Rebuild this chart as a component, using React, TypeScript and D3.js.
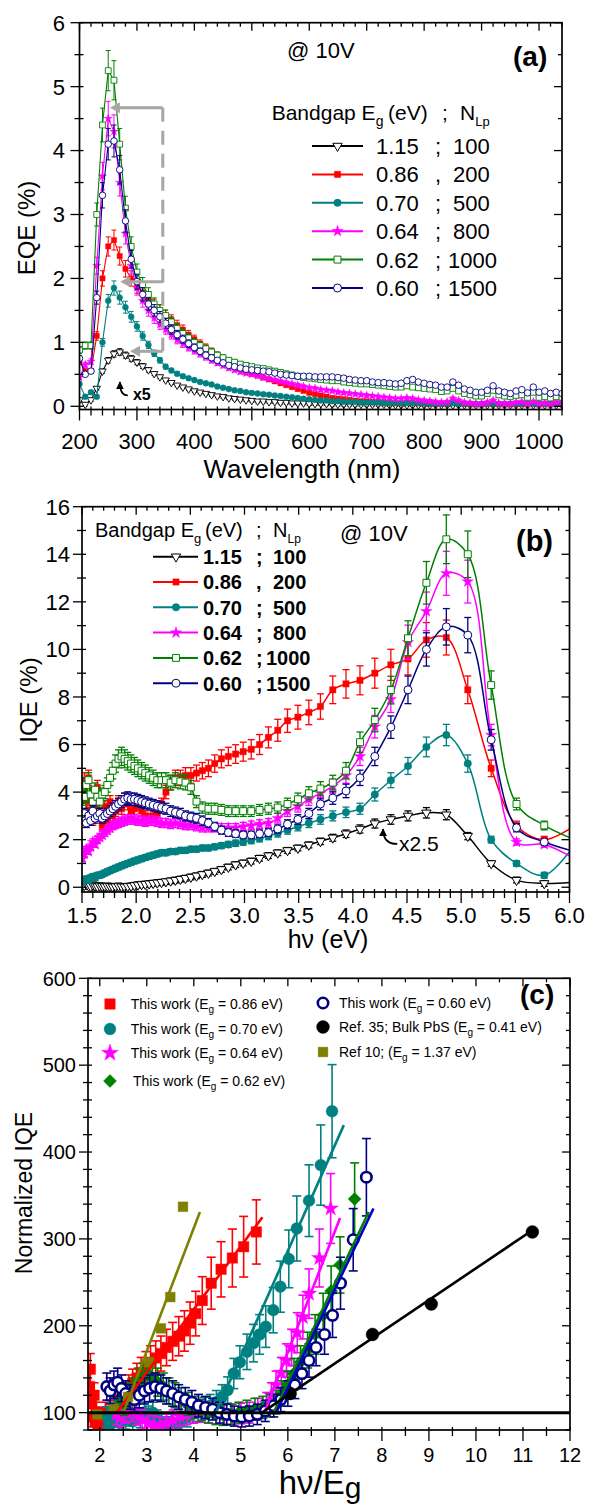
import React from 'react'
import * as d3 from 'd3'

const FONT = "'Liberation Sans', Arial, Helvetica, sans-serif"

// ---------- (a) EQE vs wavelength, @ 10 V ----------
const wavelengths = [
  200, 210, 220, 230, 240, 250, 260, 270, 280, 290,
  300, 310, 320, 330, 340, 350, 360, 370, 380, 390,
  400, 410, 420, 430, 440, 450, 460, 470, 480, 490,
  500, 510, 520, 530, 540, 550, 560, 570, 580, 590,
  600, 610, 620, 630, 640, 650, 660, 670, 680, 690,
  700, 710, 720, 730, 740, 750, 760, 770, 780, 790,
  800, 810, 820, 830, 840, 850, 860, 870, 880, 890,
  900, 910, 920, 930, 940, 950, 960, 970, 980, 990,
  1000, 1010, 1020, 1030, 1040,
]

const eqe115 = [
  0.10, 0.03, 0.10, 0.28, 0.55, 0.72, 0.82, 0.85, 0.80, 0.75,
  0.69, 0.63, 0.57, 0.51, 0.46, 0.41, 0.37, 0.33, 0.30, 0.27,
  0.24, 0.22, 0.20, 0.18, 0.16, 0.15, 0.13, 0.12, 0.11, 0.10,
  0.09, 0.08, 0.08, 0.07, 0.07, 0.06, 0.06, 0.05, 0.05, 0.05,
  0.04, 0.04, 0.04, 0.04, 0.03, 0.03, 0.03, 0.03, 0.03, 0.03,
  0.03, 0.03, 0.03, 0.03, 0.02, 0.02, 0.02, 0.02, 0.02, 0.02,
  0.02, 0.02, 0.02, 0.02, 0.02, 0.02, 0.02, 0.02, 0.02, 0.02,
  0.02, 0.02, 0.02, 0.02, 0.02, 0.02, 0.02, 0.02, 0.02, 0.02,
  0.02, 0.02, 0.02, 0.02, 0.02,
]
const eqe086 = [
  0.70, 0.55, 0.55, 1.10, 2.00, 2.50, 2.60, 2.35, 2.15, 2.00,
  1.88, 1.78, 1.68, 1.58, 1.50, 1.42, 1.35, 1.27, 1.20, 1.12,
  1.05, 0.98, 0.92, 0.86, 0.80, 0.74, 0.68, 0.63, 0.58, 0.54,
  0.51, 0.48, 0.45, 0.42, 0.39, 0.36, 0.33, 0.30, 0.27, 0.24,
  0.21, 0.19, 0.17, 0.15, 0.13, 0.12, 0.11, 0.10, 0.09, 0.08,
  0.08, 0.07, 0.07, 0.06, 0.06, 0.05, 0.05, 0.06, 0.06, 0.05,
  0.05, 0.04, 0.04, 0.04, 0.04, 0.06, 0.05, 0.04, 0.04, 0.03,
  0.03, 0.04, 0.05, 0.03, 0.03, 0.03, 0.04, 0.04, 0.03, 0.05,
  0.03, 0.04, 0.03, 0.04, 0.04,
]
const eqe070 = [
  0.35, 0.15, 0.22, 0.15, 1.00, 1.65, 1.85, 1.70, 1.55, 1.40,
  1.25, 1.10, 0.96, 0.83, 0.72, 0.62, 0.56, 0.51, 0.47, 0.44,
  0.41, 0.38, 0.36, 0.34, 0.31, 0.29, 0.27, 0.25, 0.24, 0.22,
  0.21, 0.20, 0.19, 0.18, 0.17, 0.16, 0.15, 0.14, 0.13, 0.12,
  0.11, 0.10, 0.09, 0.09, 0.08, 0.08, 0.07, 0.07, 0.07, 0.06,
  0.06, 0.06, 0.06, 0.05, 0.05, 0.05, 0.05, 0.05, 0.05, 0.05,
  0.05, 0.04, 0.04, 0.04, 0.04, 0.05, 0.04, 0.04, 0.04, 0.04,
  0.04, 0.04, 0.04, 0.04, 0.04, 0.04, 0.04, 0.04, 0.04, 0.04,
  0.04, 0.04, 0.04, 0.04, 0.04,
]
const eqe064 = [
  0.45, 0.65, 0.70, 2.20, 3.60, 4.50, 4.30, 3.50, 2.70, 2.20,
  1.85, 1.65, 1.50, 1.38, 1.28, 1.20, 1.12, 1.04, 0.98, 0.92,
  0.87, 0.82, 0.77, 0.72, 0.68, 0.64, 0.60, 0.57, 0.54, 0.52,
  0.50, 0.48, 0.45, 0.43, 0.41, 0.39, 0.37, 0.35, 0.33, 0.31,
  0.29, 0.28, 0.26, 0.25, 0.24, 0.22, 0.21, 0.20, 0.19, 0.18,
  0.17, 0.16, 0.15, 0.14, 0.13, 0.12, 0.12, 0.13, 0.12, 0.10,
  0.09, 0.08, 0.07, 0.06, 0.07, 0.12, 0.09, 0.06, 0.05, 0.04,
  0.04, 0.06, 0.09, 0.05, 0.04, 0.04, 0.06, 0.07, 0.04, 0.07,
  0.04, 0.05, 0.04, 0.06, 0.06,
]
const eqe062 = [
  0.88, 0.95, 0.95, 3.00, 4.40, 5.25, 5.10, 4.10, 3.10, 2.50,
  2.10, 1.90, 1.75, 1.60, 1.50, 1.42, 1.32, 1.22, 1.14, 1.07,
  1.00, 0.95, 0.90, 0.85, 0.80, 0.76, 0.72, 0.69, 0.66, 0.64,
  0.62, 0.60, 0.59, 0.57, 0.55, 0.53, 0.51, 0.49, 0.47, 0.45,
  0.44, 0.43, 0.42, 0.41, 0.40, 0.40, 0.38, 0.37, 0.36, 0.35,
  0.35, 0.34, 0.33, 0.32, 0.31, 0.30, 0.30, 0.32, 0.30, 0.29,
  0.28, 0.27, 0.26, 0.23, 0.24, 0.28, 0.24, 0.20, 0.18, 0.16,
  0.16, 0.20, 0.25, 0.18, 0.16, 0.15, 0.17, 0.18, 0.14, 0.22,
  0.14, 0.15, 0.13, 0.15, 0.14,
]
const eqe060 = [
  0.75, 0.50, 0.55, 1.70, 3.30, 4.10, 4.15, 3.70, 2.90, 2.30,
  1.95, 1.75, 1.60, 1.50, 1.40, 1.30, 1.20, 1.12, 1.05, 0.98,
  0.92, 0.86, 0.80, 0.76, 0.72, 0.68, 0.64, 0.62, 0.60, 0.58,
  0.57, 0.56, 0.55, 0.54, 0.52, 0.50, 0.49, 0.48, 0.47, 0.47,
  0.47, 0.46, 0.46, 0.46, 0.46, 0.45, 0.44, 0.42, 0.41, 0.40,
  0.40, 0.38, 0.37, 0.37, 0.36, 0.35, 0.36, 0.40, 0.42, 0.38,
  0.36, 0.34, 0.33, 0.30, 0.30, 0.38, 0.33, 0.27, 0.25, 0.22,
  0.22, 0.25, 0.32, 0.24, 0.22, 0.20, 0.24, 0.26, 0.21, 0.30,
  0.22, 0.24, 0.20, 0.22, 0.20,
]

// ---------- (b) IQE vs photon energy (same 10 nm grid, 825..205 nm) ----------
const photonEnergies = [
  1.503, 1.521, 1.540, 1.560, 1.580, 1.600, 1.621, 1.642, 1.664, 1.687,
  1.710, 1.734, 1.759, 1.784, 1.810, 1.837, 1.865, 1.893, 1.922, 1.953,
  1.984, 2.016, 2.050, 2.084, 2.120, 2.157, 2.195, 2.234, 2.275, 2.318,
  2.362, 2.408, 2.455, 2.505, 2.557, 2.611, 2.667, 2.725, 2.787, 2.851,
  2.918, 2.988, 3.062, 3.139, 3.221, 3.307, 3.397, 3.493, 3.594, 3.701,
  3.815, 3.937, 4.066, 4.203, 4.351, 4.509, 4.679, 4.863, 5.061, 5.277,
  5.511, 5.767, 6.049,
]
const iqe115 = [
  0.05, 0.08, 0.12, 0.06, 0.04, 0.10, 0.05, 0.03, 0.06, 0.04,
  0.03, 0.05, 0.04, 0.02, 0.03, 0.05, 0.03, 0.02, 0.04, 0.05,
  0.08, 0.10, 0.12, 0.13, 0.15, 0.17, 0.19, 0.21, 0.24, 0.27,
  0.30, 0.34, 0.38, 0.43, 0.48, 0.54, 0.60, 0.67, 0.75, 0.85,
  0.95, 1.02, 1.10, 1.22, 1.33, 1.45, 1.55, 1.65, 1.78, 1.93,
  2.08, 2.25, 2.45, 2.68, 2.85, 3.00, 3.13, 3.05, 2.15, 1.00,
  0.30, 0.16, 0.22,
]
const iqe086 = [
  3.8, 4.5, 3.2, 4.6, 3.6, 2.8, 3.4, 4.2, 3.0, 2.6,
  3.4, 2.8, 3.6, 3.0, 3.2, 3.6, 3.3, 3.7, 3.5, 3.2,
  3.3, 3.5, 3.2, 3.0, 2.9, 3.0, 3.1, 3.5, 4.0, 4.4,
  4.6, 4.6, 4.7, 4.7, 4.8, 4.9, 5.0, 5.2, 5.4, 5.5,
  5.6, 5.7, 5.8, 6.0, 6.3, 6.6, 7.0, 7.15, 7.35, 7.6,
  8.3, 8.55, 8.7, 9.0, 9.35, 9.6, 10.4, 10.5, 8.3, 5.0,
  2.6, 2.0, 2.6,
]
const iqe070 = [
  0.25, 0.30, 0.35, 0.30, 0.40, 0.45, 0.40, 0.50, 0.50, 0.55,
  0.60, 0.65, 0.70, 0.75, 0.80, 0.85, 0.90, 0.95, 1.00, 1.05,
  1.10, 1.15, 1.20, 1.25, 1.30, 1.35, 1.40, 1.45, 1.45, 1.50,
  1.50, 1.55, 1.55, 1.60, 1.60, 1.65, 1.65, 1.70, 1.75, 1.80,
  1.85, 1.90, 1.97, 2.05, 2.15, 2.27, 2.40, 2.55, 2.70, 2.85,
  3.00, 3.15, 3.30, 3.90, 4.50, 5.10, 5.90, 6.40, 5.20, 2.00,
  1.00, 0.50, 1.80,
]
const iqe064 = [
  1.2, 1.4, 1.6, 1.5, 1.7, 1.9, 1.8, 2.0, 2.1, 2.2,
  2.3, 2.4, 2.5, 2.6, 2.65, 2.7, 2.75, 2.8, 2.85, 2.85,
  2.85, 2.8, 2.8, 2.75, 2.8, 2.8, 2.75, 2.7, 2.7, 2.65,
  2.7, 2.65, 2.6, 2.6, 2.55, 2.5, 2.5, 2.5, 2.5, 2.5,
  2.5, 2.55, 2.6, 2.65, 2.7, 2.9, 3.2, 3.4, 3.7, 3.95,
  4.25, 4.7, 5.5, 6.75, 7.9, 10.3, 11.6, 13.2, 12.85, 6.4,
  1.9, 1.8, 1.2,
]
const iqe062 = [
  3.3, 3.8, 4.3, 4.5, 3.9, 3.6, 4.1, 3.8, 3.6, 3.9,
  4.0, 4.3, 4.6, 4.9, 5.2, 5.4, 5.5, 5.4, 5.3, 5.2,
  5.1, 5.0, 4.9, 4.8, 4.7, 4.6, 4.5, 4.5, 4.5, 4.4,
  4.5, 4.45, 4.4, 4.2, 3.6, 3.35, 3.3, 3.3, 3.25, 3.2,
  3.2, 3.2, 3.2, 3.25, 3.3, 3.35, 3.5, 3.7, 3.95, 4.15,
  4.4, 4.9, 6.1, 7.03, 8.29, 10.47, 12.8, 14.63, 14.0, 8.5,
  3.5, 2.6, 2.0,
]
const iqe060 = [
  2.9, 3.1, 2.7, 3.0, 2.8, 3.2, 2.9, 3.0, 3.1, 2.9,
  3.0, 3.1, 3.2, 3.3, 3.4, 3.5, 3.6, 3.7, 3.75, 3.7,
  3.7, 3.65, 3.6, 3.55, 3.5, 3.45, 3.4, 3.35, 3.3, 3.2,
  3.15, 3.1, 3.0, 2.95, 2.9, 2.8, 2.7, 2.55, 2.4, 2.3,
  2.25, 2.2, 2.2, 2.25, 2.3, 2.45, 2.65, 2.85, 3.1, 3.5,
  3.75, 4.05, 4.6, 5.5, 6.73, 8.3, 10.0, 10.95, 10.6, 6.2,
  2.5, 1.9, 1.5,
]

// ---------- (c) normalized IQE vs hv/Eg ----------
const norm086X = [1.78, 1.80, 1.82, 1.85, 1.88, 1.90, 1.93, 1.96, 2.00, 2.04, 2.08, 2.12, 2.17, 2.22, 2.28, 2.34, 2.40, 2.47, 2.54, 2.62, 2.70, 2.79, 2.88, 2.98, 3.08, 3.19, 3.30, 3.42, 3.55, 3.68, 3.80, 3.92, 4.04, 4.18, 4.37, 4.58, 4.82, 5.06, 5.33]
const norm086Y = [130, 150, 110, 95, 120, 90, 100, 85, 95, 88, 92, 100, 95, 102, 98, 105, 108, 114, 120, 128, 134, 140, 146, 152, 158, 163, 168, 175, 182, 188, 194, 203, 214, 229, 249, 265, 278, 291, 308]
const norm070X = [2.15, 2.20, 2.25, 2.30, 2.36, 2.42, 2.48, 2.55, 2.62, 2.70, 2.78, 2.86, 2.95, 3.04, 3.13, 3.22, 3.32, 3.42, 3.52, 3.63, 3.74, 3.86, 3.98, 4.10, 4.22, 4.35, 4.48, 4.60, 4.72, 4.85, 4.98, 5.13, 5.27, 5.40, 5.53, 5.69, 5.84, 6.02, 6.19, 6.45, 6.70, 6.94]
const norm070Y = [95, 85, 100, 90, 95, 88, 100, 92, 96, 90, 98, 94, 100, 96, 100, 92, 88, 85, 88, 84, 90, 95, 100, 102, 105, 108, 112, 118, 126, 145, 158, 170, 180, 190, 199, 218, 245, 277, 312, 344, 385, 447]
const norm064X = [2.35, 2.45, 2.56, 2.67, 2.78, 2.90, 3.02, 3.15, 3.28, 3.42, 3.56, 3.70, 3.85, 4.00, 4.16, 4.32, 4.48, 4.65, 4.82, 5.00, 5.18, 5.36, 5.55, 5.65, 5.75, 5.86, 5.97, 6.08, 6.20, 6.32, 6.45, 6.67, 6.91]
const norm064Y = [98, 95, 100, 102, 98, 92, 88, 86, 85, 88, 92, 96, 98, 100, 101, 100, 99, 98, 98, 99, 100, 104, 110, 120, 132, 146, 160, 175, 192, 210, 237, 278, 335]
const norm062X = [2.42, 2.52, 2.62, 2.72, 2.82, 2.92, 3.02, 3.12, 3.23, 3.35, 3.47, 3.60, 3.73, 3.87, 4.01, 4.16, 4.31, 4.47, 4.63, 4.79, 4.96, 5.13, 5.30, 5.47, 5.62, 5.75, 5.88, 6.00, 6.13, 6.27, 6.42, 6.58, 6.75, 6.92, 7.11, 7.42]
const norm062Y = [115, 110, 120, 125, 135, 140, 145, 140, 135, 130, 125, 120, 115, 110, 106, 103, 100, 98, 97, 98, 100, 102, 104, 106, 108, 112, 122, 132, 145, 158, 172, 190, 212, 240, 270, 346]
const norm060X = [2.15, 2.22, 2.30, 2.38, 2.46, 2.55, 2.64, 2.74, 2.84, 2.95, 3.06, 3.18, 3.30, 3.42, 3.55, 3.68, 3.82, 3.96, 4.10, 4.25, 4.40, 4.55, 4.70, 4.86, 5.02, 5.18, 5.35, 5.52, 5.70, 5.85, 6.00, 6.15, 6.30, 6.45, 6.60, 6.78, 6.95, 7.12, 7.39, 7.67]
const norm060Y = [130, 125, 132, 135, 128, 122, 118, 115, 120, 125, 128, 130, 128, 125, 122, 118, 115, 112, 108, 106, 104, 100, 98, 96, 95, 96, 98, 102, 108, 115, 122, 132, 145, 160, 175, 190, 212, 249, 299, 371]
const ref10X = [1.95, 2.30, 2.60, 3.05, 3.30, 3.50, 3.77]
const ref10Y = [98, 104, 118, 158, 197, 233, 337]
const ref35X = [6.05, 7.80, 9.05, 11.20]
const ref35Y = [122, 190, 225, 308]

// linear fits: [x0, y0, x1, y1]
const fit086 = [2.36, 100, 5.46, 325]
const fit070 = [4.47, 100, 7.19, 431]
const fit064 = [5.5, 100, 7.11, 324]
const fit062 = [5.7, 100, 7.72, 331]
const fit060 = [5.75, 100, 7.82, 335]
const fitRef10 = [2.5, 100, 4.13, 331]
const fitRef35 = [5.45, 100, 11.2, 310]
const unityLevel = 100

// relative error bars
const eqeErr = 0.06
const iqeErr = 0.07
const normErr = 0.12

// ticks
const eqeTicksX = [200, 300, 400, 500, 600, 700, 800, 900, 1000]
const eqeTicksY = [0, 1, 2, 3, 4, 5, 6]
const iqeTicksX = [1.5, 2.0, 2.5, 3.0, 3.5, 4.0, 4.5, 5.0, 5.5, 6.0]
const iqeTicksY = [0, 2, 4, 6, 8, 10, 12, 14, 16]
const normTicksX = [2, 3, 4, 5, 6, 7, 8, 9, 10, 11, 12]
const normTicksY = [100, 200, 300, 400, 500, 600]

const bandgaps = [
  { eg: '1.15', sep: ';', nlp: '100', color: '#000000', shape: 'tri', open: true, eqe: eqe115, iqe: iqe115 },
  { eg: '0.86', sep: ',', nlp: '200', color: '#ff0000', shape: 'square', open: false, eqe: eqe086, iqe: iqe086 },
  { eg: '0.70', sep: ';', nlp: '500', color: '#008080', shape: 'circle', open: false, eqe: eqe070, iqe: iqe070 },
  { eg: '0.64', sep: ';', nlp: '800', color: '#ff00ff', shape: 'star', open: false, eqe: eqe064, iqe: iqe064 },
  { eg: '0.62', sep: ';', nlp: '1000', color: '#008000', shape: 'square', open: true, eqe: eqe062, iqe: iqe062 },
  { eg: '0.60', sep: ';', nlp: '1500', color: '#000080', shape: 'circle', open: true, eqe: eqe060, iqe: iqe060 },
]

const normWork = [
  { eg: '0.86', color: '#ff0000', line: '#ff0000', shape: 'square', open: false, size: 110, xs: norm086X, ys: norm086Y, fit: fit086 },
  { eg: '0.70', color: '#008080', line: '#008080', shape: 'circle', open: false, size: 110, xs: norm070X, ys: norm070Y, fit: fit070 },
  { eg: '0.64', color: '#ff00ff', line: '#ff00ff', shape: 'star', open: false, size: 75, xs: norm064X, ys: norm064Y, fit: fit064 },
  { eg: '0.62', color: '#008000', line: '#008000', shape: 'diamond', open: false, size: 85, xs: norm062X, ys: norm062Y, fit: fit062 },
  { eg: '0.60', color: '#000080', line: '#0000c8', shape: 'circle', open: true, size: 85, xs: norm060X, ys: norm060Y, fit: fit060 },
]

const SYMBOLS: any = {
  tri: d3.symbolTriangle,
  square: d3.symbolSquare,
  circle: d3.symbolCircle,
  star: d3.symbolStar,
  diamond: d3.symbolSquare,
}
const ROT: any = { tri: 180, diamond: 45 }
const pathCache: any = {}
function symbolPath(shape: string, size: number) {
  const k = shape + size
  if (!pathCache[k]) pathCache[k] = d3.symbol().type(SYMBOLS[shape]).size(size)()
  return pathCache[k]
}

function Marker({ shape, x, y, size, color, open, sw = 1 }: any) {
  return (
    <path
      d={symbolPath(shape, size)}
      transform={`translate(${x},${y}) rotate(${ROT[shape] || 0})`}
      fill={open ? '#fff' : color}
      stroke={color}
      strokeWidth={open ? sw : 0.4}
    />
  )
}

function ErrorBar({ x, yLo, yHi, cap, color, sw }: any) {
  return (
    <g stroke={color} strokeWidth={sw}>
      <line x1={x} x2={x} y1={yLo} y2={yHi} />
      <line x1={x - cap / 2} x2={x + cap / 2} y1={yHi} y2={yHi} />
      <line x1={x - cap / 2} x2={x + cap / 2} y1={yLo} y2={yLo} />
    </g>
  )
}

function Frame({ x, y, xMajor, xMinor, yMajor, yMinor, fmtX, fmtY, fontSize, xLabelY, yLabelX }: any) {
  const [l, r] = x.range()
  const [b, t] = y.range()
  return (
    <g>
      <g stroke="#000" strokeWidth={1.3}>
        {xMajor.map((v: number) => (
          <g key={'xM' + v}>
            <line x1={x(v)} x2={x(v)} y1={b - 3} y2={b + 11} />
            <line x1={x(v)} x2={x(v)} y1={t} y2={t + 8} />
          </g>
        ))}
        {xMinor.map((v: number) => (
          <g key={'xm' + v}>
            <line x1={x(v)} x2={x(v)} y1={b - 3} y2={b + 6} />
            <line x1={x(v)} x2={x(v)} y1={t} y2={t + 4} />
          </g>
        ))}
        {yMajor.map((v: number) => (
          <g key={'yM' + v}>
            <line x1={l - 9} x2={l + 4} y1={y(v)} y2={y(v)} />
            <line x1={r - 8} x2={r} y1={y(v)} y2={y(v)} />
          </g>
        ))}
        {yMinor.map((v: number) => (
          <g key={'ym' + v}>
            <line x1={l - 5} x2={l + 4} y1={y(v)} y2={y(v)} />
            <line x1={r - 4} x2={r} y1={y(v)} y2={y(v)} />
          </g>
        ))}
      </g>
      <rect x={l} y={t} width={r - l} height={b - t} fill="none" stroke="#000" strokeWidth={1.7} />
      <g fontFamily={FONT} fontSize={fontSize} fill="#000">
        {xMajor.map((v: number) => (
          <text key={'xl' + v} x={x(v)} y={xLabelY} textAnchor="middle">{fmtX(v)}</text>
        ))}
        {yMajor.map((v: number) => (
          <text key={'yl' + v} x={yLabelX} y={y(v)} dy="0.36em" textAnchor="end">{fmtY(v)}</text>
        ))}
      </g>
    </g>
  )
}

export default function App() {
  const xA = d3.scaleLinear().domain([200, 1040]).range([79.5, 562])
  const yA = d3.scaleLinear().domain([-0.05, 6]).range([409.5, 22.7])
  const xB = d3.scaleLinear().domain([1.5, 6]).range([82, 569.5])
  const yB = d3.scaleLinear().domain([-0.2, 16]).range([892, 506.7])
  const xC = d3.scaleLinear().domain([1.75, 12]).range([88, 570])
  const yC = d3.scaleLinear().domain([80, 600]).range([1430, 978.3])

  const lineA = d3.line<number>().x((_, i) => xA(wavelengths[i])).y((v) => yA(v))
  const lineB = d3
    .line<number>()
    .x((_, i) => xB(photonEnergies[i]))
    .y((v) => yB(v))
    .curve(d3.curveCatmullRom.alpha(0.5))

  const eqeMinorX = d3.range(220, 1041, 20).filter((v) => v % 100 !== 0)
  const eqeMinorY = d3.range(0.5, 6, 1)
  const iqeMinorX = d3.range(16, 60).filter((v) => v % 5 !== 0).map((v) => v / 10)
  const iqeMinorY = d3.range(1, 16, 2)
  const normMinorX = d3.range(2.5, 12, 1)
  const normMinorY = d3.range(80, 600, 20).filter((v) => v % 100 !== 0)

  const sizesA: any = { tri: 24, square: 28, circle: 28, star: 22 }
  const openSizeA: any = { square: 34, circle: 34 }
  const sizesB: any = { tri: 38, square: 40, circle: 44, star: 40 }
  const openSizeB: any = { square: 48, circle: 50 }

  const sub = (t: string, fs: number, dy: number) => (
    <>
      <tspan dy={dy} fontSize={fs}>{t}</tspan>
      <tspan dy={-dy}>{''}</tspan>
    </>
  )

  const legendRowsA = bandgaps.map((s, i) => ({ s, cy: 146 + i * 28.4 }))
  const legendRowsB = bandgaps.map((s, i) => ({ s, cy: 556.7 + i * 25.3 }))

  const arrowHead = (x: number, y: number) => (
    <polygon points={`${x},${y} ${x + 10},${y - 5.5} ${x + 10},${y + 5.5}`} fill="#a6a6a6" />
  )
  const guideX = 345
  const guideLevels = [4.67, 1.95, 0.86]
  const guideTips = [253, 271, 288]

  return (
    <svg
      width={590}
      height={1505}
      style={{ position: 'absolute', left: 0, top: 0, display: 'block', background: '#fff' }}
      fontFamily={FONT}
    >
      <defs>
        <clipPath id="clipA"><rect x={79.5} y={22.7} width={482.5} height={386.8} /></clipPath>
        <clipPath id="clipB"><rect x={82} y={506.7} width={487.5} height={385.3} /></clipPath>
        <clipPath id="clipC"><rect x={88} y={978.3} width={482} height={451.7} /></clipPath>
        <marker id="tipBlack" viewBox="0 0 10 10" refX={9} refY={5} markerWidth={8} markerHeight={8} markerUnits="userSpaceOnUse" orient="auto">
          <path d="M0,0 L10,5 L0,10 z" fill="#000" />
        </marker>
      </defs>
      <rect x={0} y={0} width={590} height={1505} fill="#fff" />

      {/* ================= (a) ================= */}
      <g clipPath="url(#clipA)">
        {bandgaps.map((s) => (
          <g key={'a' + s.eg}>
            <path d={lineA(s.eqe) || ''} fill="none" stroke={s.color} strokeWidth={1.1} />
            {s.eqe.map((v, i) => {
              const e = Math.max(v * eqeErr, 0.025)
              return (
                <ErrorBar key={i} x={xA(wavelengths[i])} yLo={yA(v - e)} yHi={yA(v + e)} cap={5} color={s.color} sw={1} />
              )
            })}
            {s.eqe.map((v, i) => (
              <Marker
                key={'m' + i}
                shape={s.shape}
                x={xA(wavelengths[i])}
                y={yA(v)}
                size={s.open ? openSizeA[s.shape] || sizesA[s.shape] : sizesA[s.shape]}
                color={s.color}
                open={s.open}
                sw={0.9}
              />
            ))}
          </g>
        ))}
      </g>
      {/* gray guide */}
      <g stroke="#a6a6a6" strokeWidth={3} fill="none">
        <line x1={xA(guideX)} x2={xA(guideX)} y1={yA(guideLevels[0])} y2={yA(guideLevels[2])} strokeDasharray="14 9" />
        {guideLevels.map((lv, i) => (
          <line key={i} x1={xA(guideX)} x2={xA(guideTips[i]) + 8} y1={yA(lv)} y2={yA(lv)} />
        ))}
      </g>
      {guideLevels.map((lv, i) => <g key={'ah' + i}>{arrowHead(xA(guideTips[i]), yA(lv))}</g>)}
      <path
        d={`M${xA(284)},${yA(0.17)} Q${xA(270.4)},${yA(0.17)} ${xA(270.4)},${yA(0.38)}`}
        fill="none"
        stroke="#000"
        strokeWidth={1.8}
        markerEnd="url(#tipBlack)"
      />
      <text x={xA(293)} y={yA(0.1)} fontSize={16} fontWeight="bold">x5</text>

      <Frame
        x={xA}
        y={yA}
        xMajor={eqeTicksX}
        xMinor={eqeMinorX}
        yMajor={eqeTicksY}
        yMinor={eqeMinorY}
        fmtX={(v: number) => String(v)}
        fmtY={(v: number) => String(v)}
        fontSize={22}
        xLabelY={448.5}
        yLabelX={65}
      />
      <text x={302} y={478} fontSize={26} textAnchor="middle">Wavelength (nm)</text>
      <text transform="translate(35,228) rotate(-90)" fontSize={24} textAnchor="middle">EQE (%)</text>
      <text x={287} y={58} fontSize={22}>@ 10V</text>
      <text x={513} y={66} fontSize={28} fontWeight="bold">(a)</text>

      {/* legend (a) */}
      <g fontSize={21} style={{ whiteSpace: 'pre' }}>
        <text x={271.7} y={120}>
          Bandgap E{sub('g', 14, 6)}
        </text>
        <text x={388} y={120}>(eV)</text>
        <text x={442} y={120}>;</text>
        <text x={460} y={120}>N{sub('Lp', 13, 6)}</text>
      </g>
      {legendRowsA.map(({ s, cy }) => (
        <g key={'la' + s.eg}>
          <line x1={312} x2={363} y1={cy} y2={cy} stroke={s.color} strokeWidth={2} />
          <Marker shape={s.shape} x={337.5} y={cy} size={s.open ? openSizeB[s.shape] || sizesB[s.shape] : sizesB[s.shape]} color={s.color} open={s.open} sw={1} />
          <text x={376} y={cy + 8} fontSize={22}>{s.eg}</text>
          <text x={435} y={cy + 8} fontSize={22}>{s.sep}</text>
          <text x={s.nlp.length === 4 ? 448 : 453} y={cy + 8} fontSize={22}>{s.nlp}</text>
        </g>
      ))}

      {/* ================= (b) ================= */}
      <g clipPath="url(#clipB)">
        {bandgaps.map((s) => (
          <g key={'b' + s.eg}>
            <path d={lineB(s.iqe) || ''} fill="none" stroke={s.color} strokeWidth={1.5} />
            {s.iqe.map((v, i) => {
              const e = Math.max(v * iqeErr, 0.12)
              return (
                <ErrorBar key={i} x={xB(photonEnergies[i])} yLo={yB(v - e)} yHi={yB(v + e)} cap={7} color={s.color} sw={1.3} />
              )
            })}
            {s.iqe.map((v, i) => (
              <Marker
                key={'m' + i}
                shape={s.shape}
                x={xB(photonEnergies[i])}
                y={yB(v)}
                size={s.open ? openSizeB[s.shape] || sizesB[s.shape] : sizesB[s.shape]}
                color={s.color}
                open={s.open}
                sw={1}
              />
            ))}
          </g>
        ))}
      </g>
      <path
        d={`M${xB(4.41)},${yB(1.82)} Q${xB(4.279)},${yB(1.82)} ${xB(4.279)},${yB(2.45)}`}
        fill="none"
        stroke="#000"
        strokeWidth={1.8}
        markerEnd="url(#tipBlack)"
      />
      <text x={xB(4.426)} y={yB(1.52)} fontSize={21}>x2.5</text>

      <Frame
        x={xB}
        y={yB}
        xMajor={iqeTicksX}
        xMinor={iqeMinorX}
        yMajor={iqeTicksY}
        yMinor={iqeMinorY}
        fmtX={(v: number) => v.toFixed(1)}
        fmtY={(v: number) => String(v)}
        fontSize={22}
        xLabelY={923}
        yLabelX={70}
      />
      <text x={328} y={948} fontSize={25} textAnchor="middle">hν (eV)</text>
      <text transform="translate(37,700) rotate(-90)" fontSize={24} textAnchor="middle">IQE (%)</text>
      <text x={340} y={541} fontSize={22}>@ 10V</text>
      <text x={516} y={551} fontSize={29} fontWeight="bold">(b)</text>

      {/* legend (b) */}
      <g fontSize={20}>
        <text x={95} y={536.7}>Bandgap E{sub('g', 13, 6)}</text>
        <text x={205} y={536.7}>(eV)</text>
        <text x={256} y={536.7}>;</text>
        <text x={273} y={536.7}>N{sub('Lp', 12, 6)}</text>
      </g>
      {legendRowsB.map(({ s, cy }) => (
        <g key={'lb' + s.eg}>
          <line x1={153} x2={198} y1={cy} y2={cy} stroke={s.color} strokeWidth={2} />
          <Marker shape={s.shape} x={176} y={cy} size={s.open ? openSizeB[s.shape] || sizesB[s.shape] : sizesB[s.shape]} color={s.color} open={s.open} sw={1} />
          <g fontSize={20} fontWeight="bold">
            <text x={203} y={cy + 7.3}>{s.eg}</text>
            <text x={256} y={cy + 7.3}>{s.sep}</text>
            <text x={s.nlp.length === 4 ? 266 : 273} y={cy + 7.3}>{s.nlp}</text>
          </g>
        </g>
      ))}

      {/* ================= (c) ================= */}
      <g clipPath="url(#clipC)">
        {normWork.map((s) => (
          <g key={'c' + s.eg}>
            {s.ys.map((v, i) => {
              const e = v * normErr
              return (
                <ErrorBar key={i} x={xC(s.xs[i])} yLo={yC(v - e)} yHi={yC(v + e)} cap={9} color={s.color} sw={1.6} />
              )
            })}
            {s.ys.map((v, i) => (
              <Marker key={'m' + i} shape={s.shape} x={xC(s.xs[i])} y={yC(v)} size={s.size} color={s.color} open={s.open} sw={2.6} />
            ))}
          </g>
        ))}
        {ref10Y.map((v, i) => (
          <Marker key={'r10' + i} shape="square" x={xC(ref10X[i])} y={yC(v)} size={95} color="#808000" open={false} />
        ))}
        {ref35Y.map((v, i) => (
          <Marker key={'r35' + i} shape="circle" x={xC(ref35X[i])} y={yC(v)} size={130} color="#000" open={false} />
        ))}
        {[...normWork.map((s) => ({ f: s.fit, c: s.line })), { f: fitRef10, c: '#808000' }, { f: fitRef35, c: '#000' }].map(
          ({ f, c }, i) => (
            <line key={'fit' + i} x1={xC(f[0])} y1={yC(f[1])} x2={xC(f[2])} y2={yC(f[3])} stroke={c} strokeWidth={2.6} />
          )
        )}
        <line x1={xC(1.75)} x2={xC(12)} y1={yC(unityLevel)} y2={yC(unityLevel)} stroke="#000" strokeWidth={3} />
      </g>

      <Frame
        x={xC}
        y={yC}
        xMajor={normTicksX}
        xMinor={normMinorX}
        yMajor={normTicksY}
        yMinor={normMinorY}
        fmtX={(v: number) => String(v)}
        fmtY={(v: number) => String(v)}
        fontSize={20}
        xLabelY={1462}
        yLabelX={76}
      />
      <text x={320} y={1494} fontSize={33} textAnchor="middle">
        hν/E<tspan dy={4} fontSize={30}>g</tspan>
      </text>
      <text transform="translate(32,1193) rotate(-90)" fontSize={23} textAnchor="middle">Normalized IQE</text>
      <text x={520} y={1004} fontSize={28} fontWeight="bold">(c)</text>

      {/* legend (c) */}
      <g fontSize={14} style={{ whiteSpace: 'pre' }}>
        {normWork.slice(0, 4).map((s, i) => {
          const cy = [1004, 1029, 1053, 1081][i]
          return (
            <g key={'lc' + s.eg}>
              <Marker shape={s.shape} x={110} y={cy} size={s.shape === 'star' ? 90 : s.size} color={s.color} open={s.open} sw={2.6} />
              <text x={s.shape === 'diamond' ? 133 : 130.7} y={cy + 5}>
                This work (E<tspan dy={4} fontSize={10}>g</tspan>
                <tspan dy={-4}>{` = ${s.eg} eV)`}</tspan>
              </text>
            </g>
          )
        })}
        <Marker shape="circle" x={323} y={1003} size={normWork[4].size} color={normWork[4].color} open sw={2.6} />
        <text x={339} y={1008}>
          This work (E<tspan dy={4} fontSize={10}>g</tspan>
          <tspan dy={-4}>{` = ${normWork[4].eg} eV)`}</tspan>
        </text>
        <Marker shape="circle" x={323} y={1027} size={130} color="#000" open={false} />
        <text x={339} y={1032}>
          Ref. 35; Bulk PbS (E<tspan dy={4} fontSize={10}>g</tspan>
          <tspan dy={-4}>{' = 0.41 eV)'}</tspan>
        </text>
        <Marker shape="square" x={323} y={1052} size={95} color="#808000" open={false} />
        <text x={339} y={1057}>
          Ref 10; (E<tspan dy={4} fontSize={10}>g</tspan>
          <tspan dy={-4}>{' = 1.37 eV)'}</tspan>
        </text>
      </g>
    </svg>
  )
}
